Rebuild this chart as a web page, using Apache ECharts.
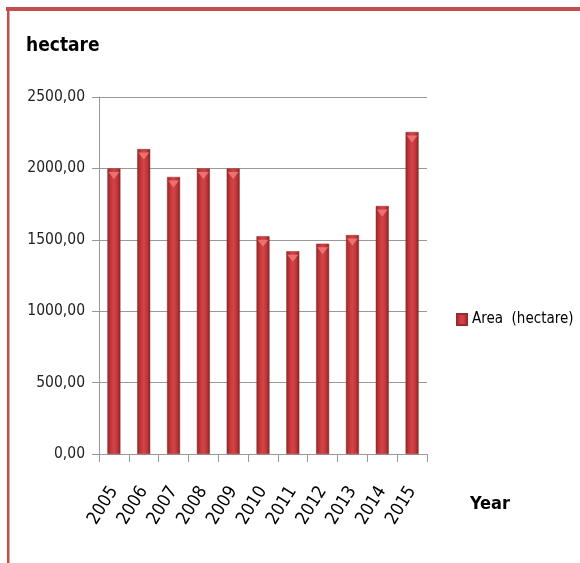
<!DOCTYPE html>
<html>
<head>
<meta charset="utf-8">
<script src="https://cdn.jsdelivr.net/npm/echarts@6/dist/echarts.min.js"></script>
<style>
html,body{margin:0;padding:0;background:#fff;}
#c{width:580px;height:563px;}
</style>
</head>
<body>
<div id="c"></div>
<script>
var categories = ['2005','2006','2007','2008','2009','2010','2011','2012','2013','2014','2015'];
var areaValues = [2000, 2135, 1940, 2000, 2000, 1525, 1420, 1473, 1533, 1737, 2255];
var seriesName = 'Area  (hectare)';
var yTicks = {min: 0, max: 2500, interval: 500};

var FONT = '"DejaVu Sans Condensed", "Liberation Sans Narrow", sans-serif';
var chart = echarts.init(document.getElementById('c'));

var barGradient = new echarts.graphic.LinearGradient(0, 0, 1, 0, [
  {offset: 0, color: '#8a2828'},
  {offset: 0.25, color: '#c2363a'},
  {offset: 0.5, color: '#d44447'},
  {offset: 0.75, color: '#c2363a'},
  {offset: 1, color: '#822222'}
]);

chart.setOption({
  animation: false,
  grid: {left: 99, right: 153, top: 97, bottom: 109},
  graphic: [
    {type: 'rect', shape: {x: 6, y: 7, width: 580, height: 4}, style: {fill: '#c0504d'}},
    {type: 'rect', shape: {x: 7, y: 7, width: 2.5, height: 560}, style: {fill: '#c0504d'}},
    {type: 'text', left: 26, top: 37, style: {text: 'hectare', font: 'bold 19px ' + FONT, fill: '#000'}},
    {type: 'text', left: 470, top: 495, style: {text: 'Year', font: 'bold 18px ' + FONT, fill: '#000'}}
  ],
  legend: {
    left: 451, top: 307,
    itemWidth: 10, itemHeight: 11, itemGap: 4,
    data: [{name: seriesName, icon: 'rect'}],
    textStyle: {fontFamily: FONT, fontSize: 15, color: '#000'}
  },
  xAxis: {
    type: 'category',
    data: categories,
    axisLine: {lineStyle: {color: '#999', width: 1}},
    axisTick: {show: true, length: 8, lineStyle: {color: '#999'}},
    axisLabel: {rotate: 58, margin: 34, fontFamily: FONT, fontSize: 18, color: '#000'}
  },
  yAxis: {
    type: 'value',
    min: yTicks.min, max: yTicks.max, interval: yTicks.interval,
    axisLine: {show: true, lineStyle: {color: '#999'}},
    axisTick: {show: true, length: 7, lineStyle: {color: '#999'}},
    splitLine: {lineStyle: {color: '#999', width: 1}},
    axisLabel: {
      margin: 14, fontFamily: FONT, fontSize: 15.5, color: '#222',
      formatter: function (v) { return v.toFixed(2).replace('.', ','); }
    }
  },
  series: [
    {
      name: seriesName,
      type: 'bar',
      data: areaValues,
      barWidth: 13,
      itemStyle: {color: barGradient, borderColor: '#9b2b2b', borderWidth: 0.5},
      z: 2
    },
    {
      name: 'top',
      type: 'pictorialBar',
      data: areaValues,
      symbol: 'triangle',
      symbolRotate: 180,
      symbolSize: [11, 7],
      symbolPosition: 'end',
      symbolOffset: [0, 3.5],
      itemStyle: {color: '#f07a7a', opacity: 0.85},
      silent: true,
      z: 3,
      legendHoverLink: false
    }
  ]
});
</script>
</body>
</html>
